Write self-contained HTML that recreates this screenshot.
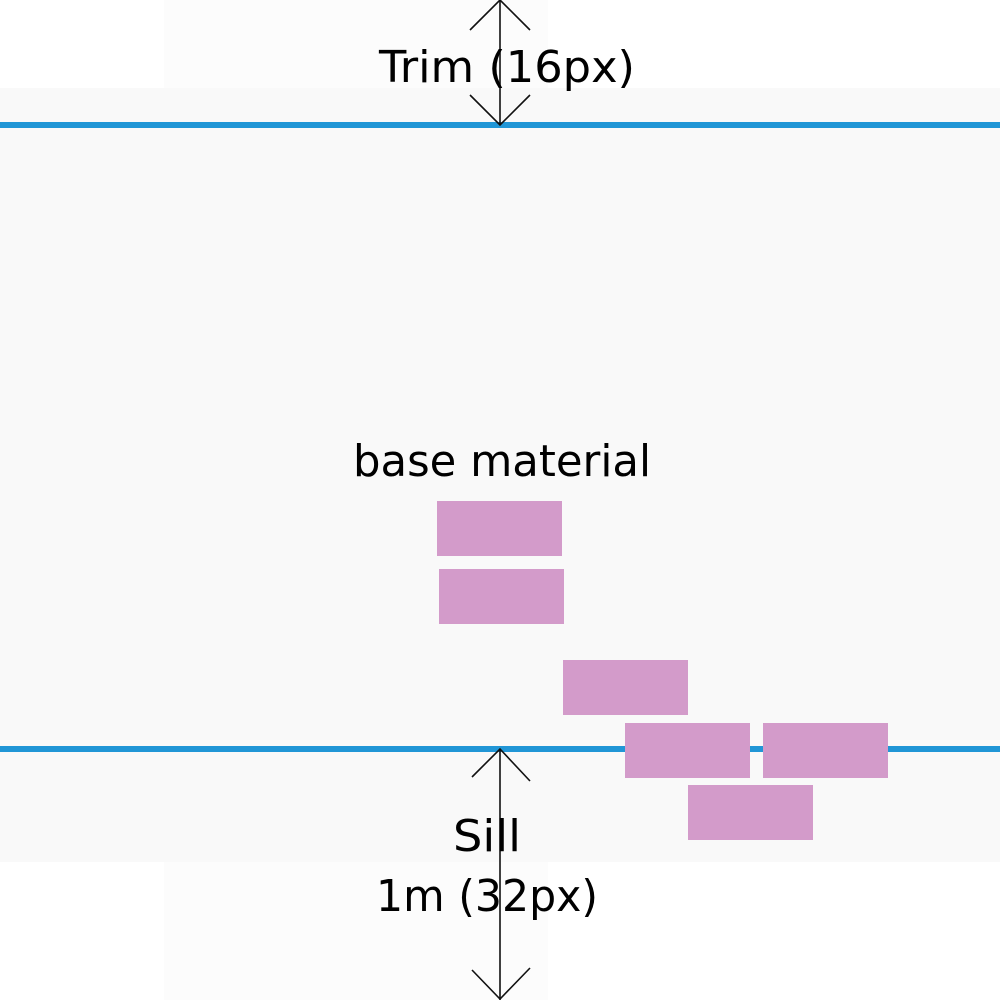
<!DOCTYPE html>
<html><head><style>html,body{margin:0;padding:0;background:#fff}svg{display:block}</style></head>
<body>
<svg width="1000" height="1000" viewBox="0 0 1000 1000" xmlns="http://www.w3.org/2000/svg">
<rect x="0" y="0" width="1000" height="1000" fill="#ffffff"/>
<rect x="164" y="0" width="384" height="1000" fill="#fcfcfc"/>
<rect x="0" y="88" width="1000" height="774" fill="#f9f9f9"/>
<rect x="0" y="122" width="1000" height="6" fill="#2196d6"/>
<rect x="0" y="746" width="1000" height="6" fill="#2196d6"/>
<g fill="#d39bca">
<rect x="437" y="501" width="125" height="55"/>
<rect x="439" y="569" width="125" height="55"/>
<rect x="563" y="660" width="125" height="55"/>
<rect x="625" y="723" width="125" height="55"/>
<rect x="763" y="723" width="125" height="55"/>
<rect x="688" y="785" width="125" height="55"/>
</g>
<g stroke="#111" stroke-width="1.6" fill="none">
<line x1="500" y1="0" x2="500" y2="125"/>
<polyline points="470,30 500,0 530,30"/>
<polyline points="470,95 500,125 530,95"/>
<line x1="500" y1="749" x2="500" y2="1000"/>
<polyline points="472,777 500,749 530,781"/>
<polyline points="472,970 500,999 530,968"/>
</g>
<g font-family="'DejaVu Sans','Liberation Sans',sans-serif" font-size="44" fill="#000" text-anchor="middle">
<text x="507" y="82" textLength="256" lengthAdjust="spacingAndGlyphs">Trim (16px)</text>
<text x="502" y="476" textLength="298" lengthAdjust="spacingAndGlyphs">base material</text>
<text x="487" y="851" textLength="68" lengthAdjust="spacingAndGlyphs">Sill</text>
<text x="487" y="911" textLength="222" lengthAdjust="spacingAndGlyphs">1m (32px)</text>
</g>
</svg>
</body></html>
